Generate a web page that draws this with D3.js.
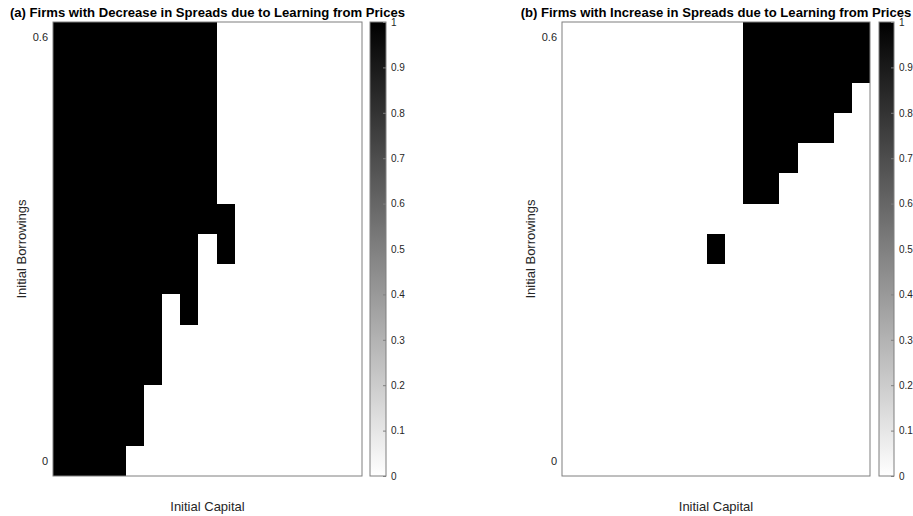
<!DOCTYPE html>
<html>
<head>
<meta charset="utf-8">
<script src="https://cdn.jsdelivr.net/npm/d3@7"></script>
<style>
  html, body { margin: 0; padding: 0; background: #fff; }
  svg { display: block; font-family: "Liberation Sans", Arial, Helvetica, sans-serif; }
</style>
</head>
<body>
<svg id="chart" width="913" height="516"></svg>
<script>
// ---- data ----
const capital = [1, 2, 3, 4, 5, 6, 7, 8, 9, 10, 11, 12, 13, 14, 15, 16, 17];
const borrowings = [0, 0.043, 0.086, 0.129, 0.171, 0.214, 0.257, 0.3, 0.343, 0.386, 0.429, 0.471, 0.514, 0.557, 0.6];
const yTicks = [0, 0.6];
const cbTicks = [0, 0.1, 0.2, 0.3, 0.4, 0.5, 0.6, 0.7, 0.8, 0.9, 1];
const titles = [
  "(a) Firms with Decrease in Spreads due to Learning from Prices",
  "(b) Firms with Increase in Spreads due to Learning from Prices"
];
const xLabel = "Initial Capital";
const yLabel = "Initial Borrowings";

// rows listed from borrowings = 0 (bottom) up to 0.6 (top); columns = capital
const decrease = [
  [1,1,1,1,0,0,0,0,0,0,0,0,0,0,0,0,0],
  [1,1,1,1,1,0,0,0,0,0,0,0,0,0,0,0,0],
  [1,1,1,1,1,0,0,0,0,0,0,0,0,0,0,0,0],
  [1,1,1,1,1,1,0,0,0,0,0,0,0,0,0,0,0],
  [1,1,1,1,1,1,0,0,0,0,0,0,0,0,0,0,0],
  [1,1,1,1,1,1,0,1,0,0,0,0,0,0,0,0,0],
  [1,1,1,1,1,1,1,1,0,0,0,0,0,0,0,0,0],
  [1,1,1,1,1,1,1,1,0,1,0,0,0,0,0,0,0],
  [1,1,1,1,1,1,1,1,1,1,0,0,0,0,0,0,0],
  [1,1,1,1,1,1,1,1,1,0,0,0,0,0,0,0,0],
  [1,1,1,1,1,1,1,1,1,0,0,0,0,0,0,0,0],
  [1,1,1,1,1,1,1,1,1,0,0,0,0,0,0,0,0],
  [1,1,1,1,1,1,1,1,1,0,0,0,0,0,0,0,0],
  [1,1,1,1,1,1,1,1,1,0,0,0,0,0,0,0,0],
  [1,1,1,1,1,1,1,1,1,0,0,0,0,0,0,0,0]
];
const increase = [
  [0,0,0,0,0,0,0,0,0,0,0,0,0,0,0,0,0],
  [0,0,0,0,0,0,0,0,0,0,0,0,0,0,0,0,0],
  [0,0,0,0,0,0,0,0,0,0,0,0,0,0,0,0,0],
  [0,0,0,0,0,0,0,0,0,0,0,0,0,0,0,0,0],
  [0,0,0,0,0,0,0,0,0,0,0,0,0,0,0,0,0],
  [0,0,0,0,0,0,0,0,0,0,0,0,0,0,0,0,0],
  [0,0,0,0,0,0,0,0,0,0,0,0,0,0,0,0,0],
  [0,0,0,0,0,0,0,0,1,0,0,0,0,0,0,0,0],
  [0,0,0,0,0,0,0,0,0,0,0,0,0,0,0,0,0],
  [0,0,0,0,0,0,0,0,0,0,1,1,0,0,0,0,0],
  [0,0,0,0,0,0,0,0,0,0,1,1,1,0,0,0,0],
  [0,0,0,0,0,0,0,0,0,0,1,1,1,1,1,0,0],
  [0,0,0,0,0,0,0,0,0,0,1,1,1,1,1,1,0],
  [0,0,0,0,0,0,0,0,0,0,1,1,1,1,1,1,1],
  [0,0,0,0,0,0,0,0,0,0,1,1,1,1,1,1,1]
];

// ---- layout ----
const svg = d3.select("#chart");
const panels = [
  { data: decrease, title: titles[0], x0: 53, x1: 362, cb0: 370, cb1: 386 },
  { data: increase, title: titles[1], x0: 562, x1: 870, cb0: 879, cb1: 894 }
];
const plotTop = 22, plotBottom = 476;
const textColor = "#262626";
const axisColor = "#7f7f7f";

const color = d3.scaleLinear().domain([0, 1]).range(["#ffffff", "#000000"]);

const defs = svg.append("defs");
const grad = defs.append("linearGradient").attr("id", "cbgrad")
  .attr("x1", 0).attr("y1", 1).attr("x2", 0).attr("y2", 0);
cbTicks.forEach(t => grad.append("stop").attr("offset", t).attr("stop-color", color(t)));

panels.forEach(p => {
  const g = svg.append("g");
  const x = d3.scaleBand().domain(capital).range([p.x0, p.x1]).padding(0);
  const y = d3.scaleBand().domain(borrowings).range([plotBottom, plotTop]).padding(0);

  // cells
  const cells = [];
  p.data.forEach((row, i) => row.forEach((v, j) => cells.push({ b: borrowings[i], c: capital[j], v })));
  g.append("g").attr("shape-rendering", "crispEdges")
    .selectAll("rect").data(cells).join("rect")
    .attr("x", d => Math.round(x(d.c)))
    .attr("y", d => Math.round(y(d.b)))
    .attr("width", d => Math.round(x(d.c) + x.bandwidth()) - Math.round(x(d.c)))
    .attr("height", d => Math.round(y(d.b) + y.bandwidth()) - Math.round(y(d.b)))
    .attr("fill", d => color(d.v));

  // frame
  g.append("rect")
    .attr("x", p.x0).attr("y", plotTop)
    .attr("width", p.x1 - p.x0).attr("height", plotBottom - plotTop)
    .attr("fill", "none").attr("stroke", axisColor).attr("stroke-width", 1);

  // y tick labels
  g.append("g").selectAll("text").data(yTicks).join("text")
    .attr("x", p.x0 - 5)
    .attr("y", d => y(borrowings.find(b => b === d)) + y.bandwidth() / 2)
    .attr("dy", "0.35em")
    .attr("text-anchor", "end")
    .attr("font-size", 11)
    .attr("fill", textColor)
    .text(d => d3.format("~g")(d));

  // title
  g.append("text")
    .attr("x", (p.x0 + p.x1) / 2).attr("y", 17)
    .attr("text-anchor", "middle")
    .attr("font-size", 13.1).attr("font-weight", "bold")
    .attr("fill", "#000")
    .text(p.title);

  // x label
  g.append("text")
    .attr("x", (p.x0 + p.x1) / 2).attr("y", 511)
    .attr("text-anchor", "middle")
    .attr("font-size", 13)
    .attr("fill", textColor)
    .text(xLabel);

  // y label
  g.append("text")
    .attr("transform", `translate(${p.x0 - 27},${(plotTop + plotBottom) / 2}) rotate(-90)`)
    .attr("text-anchor", "middle")
    .attr("font-size", 13)
    .attr("fill", textColor)
    .text(yLabel);

  // colorbar
  const cs = d3.scaleLinear().domain([0, 1]).range([plotBottom, plotTop]);
  g.append("rect")
    .attr("x", p.cb0).attr("y", plotTop)
    .attr("width", p.cb1 - p.cb0).attr("height", plotBottom - plotTop)
    .attr("fill", "url(#cbgrad)")
    .attr("stroke", axisColor).attr("stroke-width", 1);
  const cbAxis = g.append("g")
    .attr("transform", `translate(${p.cb1},0)`)
    .call(d3.axisRight(cs).tickValues(cbTicks).tickFormat(d3.format("~g")).tickSize(-3).tickPadding(5));
  cbAxis.select(".domain").remove();
  cbAxis.selectAll(".tick line").attr("stroke", axisColor);
  cbAxis.selectAll(".tick text")
    .attr("fill", textColor)
    .attr("font-size", 10)
    .attr("font-family", "Liberation Sans, Arial, sans-serif");
});
</script>
</body>
</html>
